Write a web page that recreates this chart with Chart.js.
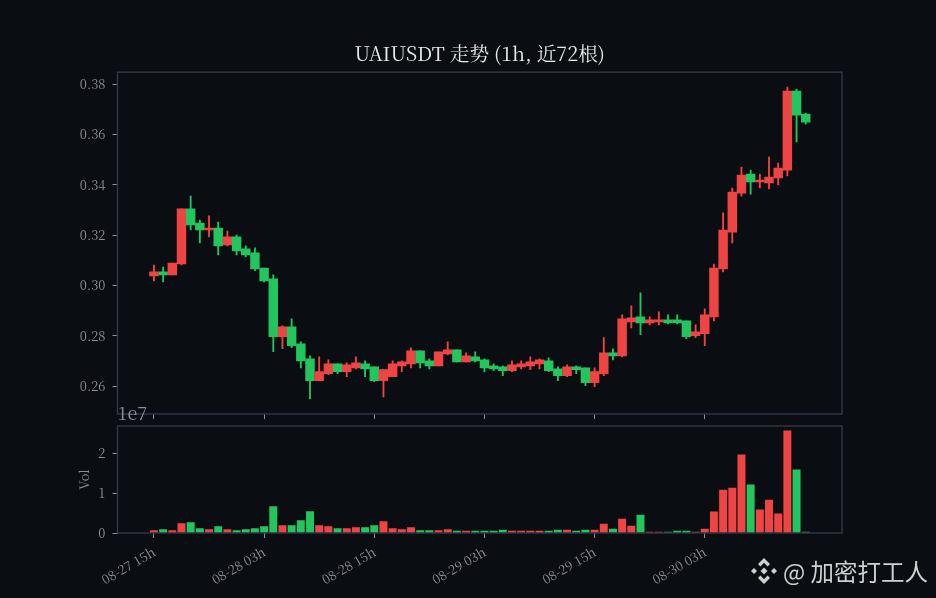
<!DOCTYPE html>
<html>
<head>
<meta charset="utf-8">
<title>UAIUSDT</title>
<script src="https://cdn.jsdelivr.net/npm/chart.js@4/dist/chart.umd.min.js"></script>
<style>
  html, body { margin: 0; padding: 0; background: #0a0d11; }
  #stage { position: relative; width: 936px; height: 598px; overflow: hidden; }
  canvas { position: absolute; left: 0; top: 0; }
  #mark { position: absolute; left: 750px; top: 556px; height: 30px; display: flex; align-items: center; color: #cfd0d0;
          font: 23.5px "Noto Sans CJK SC", sans-serif; white-space: nowrap; }
  #mark svg { margin-right: 5px; }
</style>
</head>
<body>
<div id="stage">
  <canvas id="priceChart" width="936" height="598"></canvas>
  <canvas id="volChart" width="936" height="598"></canvas>
  <div id="mark">
    <svg width="28" height="28" viewBox="0 0 28 28" fill="#cfd0d0">
      <path d="M14 1l6 6-2.4 2.4L14 5.8l-3.6 3.6L8 7z"/>
      <path d="M14 27l6-6-2.4-2.4-3.6 3.6-3.6-3.6L8 21z"/>
      <path d="M1 14l3-3 3 3-3 3z"/><path d="M21 14l3-3 3 3-3 3z"/>
      <path d="M14 10.5l3.5 3.5-3.5 3.5-3.5-3.5z"/>
    </svg>
    <span>@ 加密打工人</span>
  </div>
</div>
<script>
// Candles, one entry per hour
const opens = [0.3038,0.3054,0.3042,0.3085,0.3304,0.3248,0.3220,0.3228,0.3161,0.3193,0.3145,0.3129,
  0.3069,0.3026,0.2796,0.2835,0.2768,0.2708,0.2621,0.2649,0.2688,0.2657,0.2672,0.2688,
  0.2676,0.2621,0.2637,0.2680,0.2688,0.2740,0.2700,0.2680,0.2728,0.2744,0.2696,0.2716,
  0.2704,0.2680,0.2676,0.2661,0.2676,0.2680,0.2688,0.2700,0.2668,0.2641,0.2676,0.2672,
  0.2613,0.2649,0.2732,0.2720,0.2855,0.2875,0.2851,0.2855,0.2863,0.2863,0.2859,0.2800,
  0.2808,0.2875,0.3065,0.3212,0.3367,0.3442,0.3411,0.3407,0.3427,0.3458,0.3772,0.3681];
const highs = [0.3081,0.3073,0.3089,0.3304,0.3355,0.3260,0.3276,0.3252,0.3216,0.3200,0.3157,0.3149,
  0.3069,0.3042,0.2839,0.2867,0.2776,0.2720,0.2716,0.2704,0.2688,0.2692,0.2716,0.2700,
  0.2676,0.2665,0.2700,0.2700,0.2752,0.2740,0.2708,0.2736,0.2776,0.2744,0.2732,0.2736,
  0.2708,0.2688,0.2680,0.2700,0.2700,0.2716,0.2708,0.2712,0.2676,0.2684,0.2680,0.2672,
  0.2672,0.2792,0.2748,0.2883,0.2919,0.2970,0.2875,0.2895,0.2883,0.2883,0.2859,0.2843,
  0.2907,0.3085,0.3288,0.3387,0.3470,0.3458,0.3442,0.3510,0.3486,0.3788,0.3780,0.3685];
const lows = [0.3018,0.3014,0.3042,0.3081,0.3220,0.3169,0.3193,0.3121,0.3157,0.3121,0.3113,0.3058,
  0.3014,0.2736,0.2748,0.2752,0.2672,0.2549,0.2621,0.2645,0.2649,0.2637,0.2668,0.2637,
  0.2617,0.2557,0.2637,0.2657,0.2672,0.2672,0.2668,0.2680,0.2724,0.2696,0.2696,0.2696,
  0.2657,0.2661,0.2641,0.2657,0.2668,0.2665,0.2668,0.2657,0.2621,0.2637,0.2649,0.2601,
  0.2597,0.2641,0.2704,0.2716,0.2831,0.2804,0.2843,0.2843,0.2847,0.2847,0.2788,0.2792,
  0.2760,0.2859,0.3054,0.3169,0.3355,0.3363,0.3387,0.3383,0.3399,0.3435,0.3570,0.3641];
const closes = [0.3054,0.3042,0.3089,0.3304,0.3240,0.3220,0.3228,0.3157,0.3193,0.3137,0.3121,0.3065,
  0.3018,0.2796,0.2835,0.2760,0.2700,0.2621,0.2657,0.2688,0.2657,0.2684,0.2692,0.2668,
  0.2621,0.2665,0.2688,0.2696,0.2740,0.2692,0.2680,0.2736,0.2744,0.2696,0.2720,0.2700,
  0.2672,0.2668,0.2661,0.2684,0.2688,0.2696,0.2704,0.2661,0.2641,0.2676,0.2665,0.2613,
  0.2657,0.2732,0.2720,0.2867,0.2871,0.2851,0.2863,0.2863,0.2851,0.2851,0.2796,0.2815,
  0.2883,0.3069,0.3220,0.3371,0.3438,0.3411,0.3419,0.3431,0.3466,0.3772,0.3677,0.3649];
// Volume, in units of 1e7
const volumes = [0.06,0.085,0.06,0.235,0.26,0.11,0.085,0.16,0.085,0.06,0.085,0.11,
  0.16,0.665,0.185,0.185,0.31,0.54,0.185,0.16,0.11,0.11,0.135,0.135,
  0.185,0.285,0.11,0.085,0.135,0.06,0.06,0.06,0.085,0.05,0.05,0.05,
  0.05,0.05,0.075,0.05,0.05,0.05,0.05,0.05,0.075,0.075,0.05,0.075,
  0.075,0.225,0.1,0.35,0.175,0.45,0.025,0.025,0.025,0.05,0.05,0.025,
  0.1,0.53,1.08,1.13,1.965,1.21,0.58,0.83,0.48,2.57,1.59,0.025];

const xTicks = [0, 12, 24, 36, 48, 60];
const xTickLabels = ['08-27 15h', '08-28 03h', '08-28 15h', '08-29 03h', '08-29 15h', '08-30 03h'];
const priceTicks = [0.26, 0.28, 0.30, 0.32, 0.34, 0.36, 0.38];
const volTicks = [0, 1, 2];

const UP = '#ef4444';
const DOWN = '#22c55e';
const FRAME = '#323846';
const TICK = '#8b9098';
const SERIF = '"Noto Serif CJK SC", "Liberation Serif", "Noto Sans CJK SC", serif';

const candleColors = closes.map((c, i) => (c >= opens[i] ? UP : DOWN));
const X_MIN = -3.97;
const X_MAX = 74.95;

// matplotlib-like box round the plot area
const framePlugin = {
  id: 'frame',
  afterDraw(chart) {
    const { ctx, chartArea: a } = chart;
    ctx.save();
    ctx.strokeStyle = FRAME;
    ctx.lineWidth = 1.4;
    ctx.strokeRect(a.left, a.top, a.right - a.left, a.bottom - a.top);
    ctx.restore();
  }
};

const offsetTextPlugin = {
  id: 'offsetText',
  afterDraw(chart) {
    const { ctx, chartArea: a } = chart;
    ctx.save();
    ctx.fillStyle = TICK;
    ctx.font = '18px ' + SERIF;
    ctx.textBaseline = 'alphabetic';
    ctx.fillText('1e7', a.left, a.top - 6);
    ctx.restore();
  }
};

function xAxis(showLabels, height) {
  return {
    type: 'linear',
    offset: false,
    min: X_MIN,
    max: X_MAX,
    afterBuildTicks: s => { s.ticks = xTicks.map(v => ({ value: v })); },
    afterFit: s => { s.height = height; },
    border: { display: false },
    grid: { offset: false, drawOnChartArea: false, drawTicks: true, tickLength: 5, color: TICK, tickColor: TICK },
    ticks: {
      display: showLabels,
      autoSkip: false,
      minRotation: 30,
      maxRotation: 30,
      padding: 6,
      color: TICK,
      font: { family: SERIF, size: 13 },
      callback: v => xTickLabels[xTicks.indexOf(v)]
    }
  };
}

function yAxis(min, max, tickValues, fmt, extra) {
  return Object.assign({
    min: min,
    max: max,
    afterBuildTicks: s => { s.ticks = tickValues.map(v => ({ value: v })); },
    border: { display: false },
    grid: { drawOnChartArea: false, tickLength: 5, color: TICK, tickColor: TICK },
    ticks: {
      autoSkip: false,
      padding: 7,
      color: TICK,
      font: { family: SERIF, size: 13 },
      callback: fmt
    }
  }, extra);
}

new Chart(document.getElementById('priceChart'), {
  type: 'bar',
  data: {
    datasets: [
      {
        label: 'body',
        data: opens.map((o, i) => ({ x: i, y: [o, closes[i]] })),
        backgroundColor: candleColors,
        barThickness: 8.8,
        grouped: false
      },
      {
        label: 'wick',
        data: lows.map((l, i) => ({ x: i, y: [l, highs[i]] })),
        backgroundColor: candleColors,
        barThickness: 1.2,
        grouped: false
      }
    ]
  },
  options: {
    responsive: false,
    animation: false,
    layout: { padding: { left: 0, right: 94, top: 0, bottom: 179 } },
    plugins: {
      legend: { display: false },
      tooltip: { enabled: false },
      title: {
        display: true,
        fullSize: false,
        text: 'UAIUSDT 走势 (1h, 近72根)',
        color: '#e8e8e8',
        font: { family: SERIF, size: 19.7, weight: 'normal' },
        padding: { top: 42, bottom: 6.5 }
      }
    },
    scales: {
      x: xAxis(false, 5),
      y: yAxis(0.24887, 0.38477, priceTicks, v => v.toFixed(2), {
        afterFit: s => { s.width = 117.5; }
      })
    }
  },
  plugins: [framePlugin]
});

new Chart(document.getElementById('volChart'), {
  type: 'bar',
  data: {
    datasets: [{
      label: 'Vol',
      data: volumes.map((v, i) => ({ x: i, y: v })),
      backgroundColor: candleColors,
      barThickness: 7.3
    }]
  },
  options: {
    responsive: false,
    animation: false,
    layout: { padding: { left: 76, right: 94, top: 426, bottom: 0 } },
    plugins: { legend: { display: false }, tooltip: { enabled: false } },
    scales: {
      x: xAxis(true, 65),
      y: yAxis(0, 2.69, volTicks, v => String(v), {
        afterFit: s => { s.width = 41.5; },
        title: { display: true, text: 'Vol', color: TICK, padding: 0, font: { family: SERIF, size: 13 } }
      })
    }
  },
  plugins: [framePlugin, offsetTextPlugin]
});
</script>
</body>
</html>
